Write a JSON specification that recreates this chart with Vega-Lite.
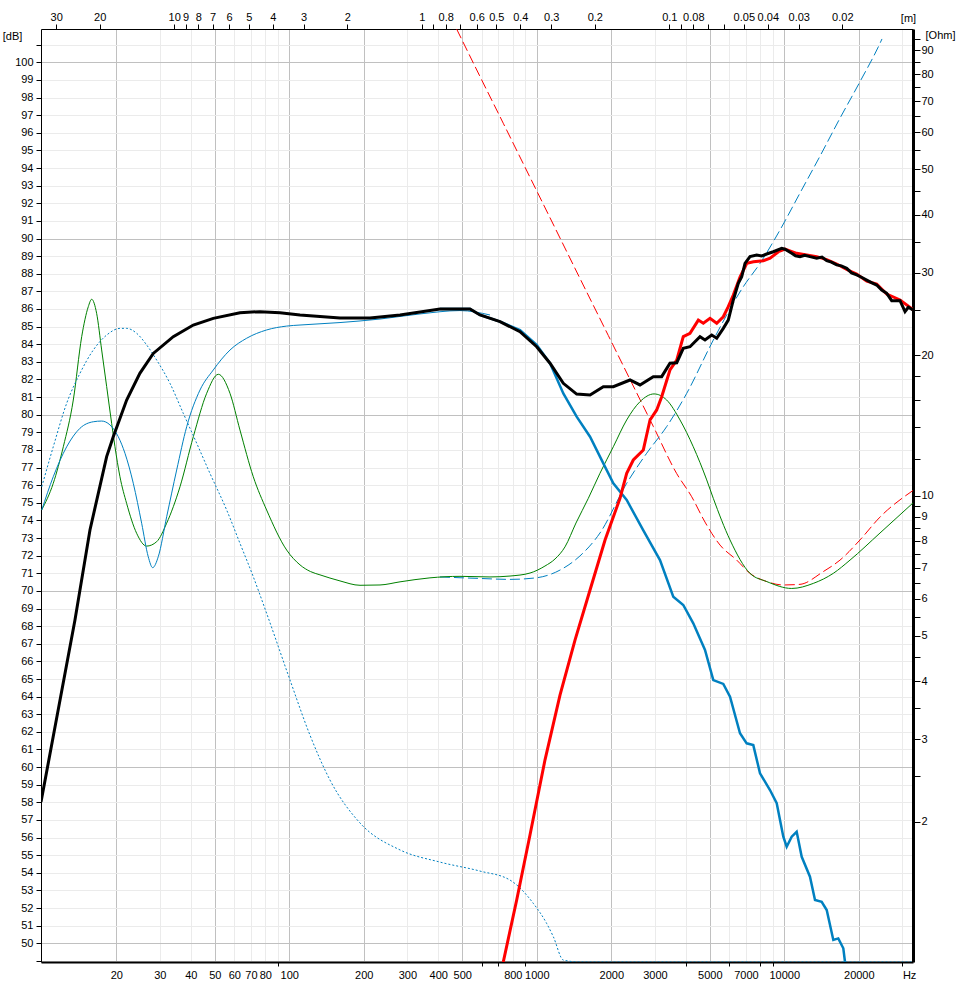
{
  "$schema": "https://vega.github.io/schema/vega-lite/v6.json",
  "width": 872,
  "height": 933,
  "autosize": {"type": "none"},
  "padding": {"left": 41, "top": 29, "right": 45, "bottom": 37},
  "background": "white",
  "config": {
    "view": {"stroke": null},
    "axis": {"labelFont": "Liberation Sans", "labelFontSize": 11, "labelColor": "black", "titleFont": "Liberation Sans", "titleFontSize": 11, "titleFontWeight": "normal", "titleColor": "black"}
  },
  "datasets": {
    "spl": [
      {"s": "total", "f": 9.93, "db": 58.02}, {"s": "total", "f": 13.62, "db": 68.35}, {"s": "total", "f": 15.66, "db": 73.46}, {"s": "total", "f": 18.29, "db": 77.62}, {"s": "total", "f": 19.45, "db": 78.75}, {"s": "total", "f": 22.03, "db": 80.83}, {"s": "total", "f": 24.91, "db": 82.35}, {"s": "total", "f": 28.22, "db": 83.48}, {"s": "total", "f": 33.99, "db": 84.43}, {"s": "total", "f": 40.95, "db": 85.09}, {"s": "total", "f": 49.32, "db": 85.47}, {"s": "total", "f": 63.22, "db": 85.79}, {"s": "total", "f": 76.13, "db": 85.85}, {"s": "total", "f": 91.7, "db": 85.79}, {"s": "total", "f": 110.5, "db": 85.66}, {"s": "total", "f": 160.3, "db": 85.49}, {"s": "total", "f": 211.9, "db": 85.49}, {"s": "total", "f": 280.2, "db": 85.66}, {"s": "total", "f": 406.3, "db": 86.0}, {"s": "total", "f": 537.2, "db": 86.0}, {"s": "total", "f": 589.6, "db": 85.66}, {"s": "total", "f": 710.2, "db": 85.28}, {"s": "total", "f": 855.3, "db": 84.71}, {"s": "total", "f": 999, "db": 83.86}, {"s": "total", "f": 1131, "db": 82.92}, {"s": "total", "f": 1280, "db": 81.78}, {"s": "total", "f": 1449, "db": 81.17}, {"s": "total", "f": 1641, "db": 81.12}, {"s": "total", "f": 1857, "db": 81.59}, {"s": "total", "f": 2038, "db": 81.59}, {"s": "total", "f": 2380, "db": 81.97}, {"s": "total", "f": 2612, "db": 81.69}, {"s": "total", "f": 2955, "db": 82.16}, {"s": "total", "f": 3196, "db": 82.16}, {"s": "total", "f": 3452, "db": 82.92}, {"s": "total", "f": 3676, "db": 82.95}, {"s": "total", "f": 3907, "db": 83.77}, {"s": "total", "f": 4159, "db": 83.86}, {"s": "total", "f": 4564, "db": 84.43}, {"s": "total", "f": 4782, "db": 84.24}, {"s": "total", "f": 5090, "db": 84.52}, {"s": "total", "f": 5333, "db": 84.34}, {"s": "total", "f": 5669, "db": 84.9}, {"s": "total", "f": 5938, "db": 85.37}, {"s": "total", "f": 6223, "db": 86.51}, {"s": "total", "f": 6518, "db": 87.46}, {"s": "total", "f": 6729, "db": 87.83}, {"s": "total", "f": 6938, "db": 88.59}, {"s": "total", "f": 7267, "db": 88.97}, {"s": "total", "f": 7735, "db": 89.06}, {"s": "total", "f": 8104, "db": 89.01}, {"s": "total", "f": 8488, "db": 89.12}, {"s": "total", "f": 9028, "db": 89.25}, {"s": "total", "f": 9761, "db": 89.44}, {"s": "total", "f": 10065, "db": 89.39}, {"s": "total", "f": 10713, "db": 89.16}, {"s": "total", "f": 11100, "db": 89.02}, {"s": "total", "f": 11570, "db": 88.97}, {"s": "total", "f": 12100, "db": 89.05}, {"s": "total", "f": 12697, "db": 88.97}, {"s": "total", "f": 13518, "db": 88.88}, {"s": "total", "f": 14200, "db": 88.95}, {"s": "total", "f": 14837, "db": 88.74}, {"s": "total", "f": 15500, "db": 88.66}, {"s": "total", "f": 16280, "db": 88.5}, {"s": "total", "f": 17000, "db": 88.45}, {"s": "total", "f": 17870, "db": 88.31}, {"s": "total", "f": 18700, "db": 88.05}, {"s": "total", "f": 19610, "db": 87.93}, {"s": "total", "f": 20500, "db": 87.8}, {"s": "total", "f": 21530, "db": 87.64}, {"s": "total", "f": 22500, "db": 87.5}, {"s": "total", "f": 23620, "db": 87.36}, {"s": "total", "f": 24750, "db": 87.08}, {"s": "total", "f": 25930, "db": 86.89}, {"s": "total", "f": 27160, "db": 86.47}, {"s": "total", "f": 29350, "db": 86.47}, {"s": "total", "f": 30740, "db": 85.85}, {"s": "total", "f": 31700, "db": 86.1}, {"s": "total", "f": 33110, "db": 85.94},

      {"s": "tw", "f": 732.1, "db": 48.94}, {"s": "tw", "f": 829.5, "db": 52.46}, {"s": "tw", "f": 938.7, "db": 56.15}, {"s": "tw", "f": 1079, "db": 60.4}, {"s": "tw", "f": 1241, "db": 64.09}, {"s": "tw", "f": 1427, "db": 67.21}, {"s": "tw", "f": 1641, "db": 70.05}, {"s": "tw", "f": 1887, "db": 72.89}, {"s": "tw", "f": 2169, "db": 75.26}, {"s": "tw", "f": 2308, "db": 76.67}, {"s": "tw", "f": 2454, "db": 77.43}, {"s": "tw", "f": 2694, "db": 78.0}, {"s": "tw", "f": 2867, "db": 79.7}, {"s": "tw", "f": 3051, "db": 80.27}, {"s": "tw", "f": 3196, "db": 81.02}, {"s": "tw", "f": 3452, "db": 82.54}, {"s": "tw", "f": 3676, "db": 83.1}, {"s": "tw", "f": 3907, "db": 84.43}, {"s": "tw", "f": 4159, "db": 84.62}, {"s": "tw", "f": 4494, "db": 85.37}, {"s": "tw", "f": 4707, "db": 85.19}, {"s": "tw", "f": 5010, "db": 85.47}, {"s": "tw", "f": 5333, "db": 85.19}, {"s": "tw", "f": 5669, "db": 85.56}, {"s": "tw", "f": 5938, "db": 86.13}, {"s": "tw", "f": 6223, "db": 86.79}, {"s": "tw", "f": 6628, "db": 87.83}, {"s": "tw", "f": 7055, "db": 88.59}, {"s": "tw", "f": 7504, "db": 88.68}, {"s": "tw", "f": 8232, "db": 88.74}, {"s": "tw", "f": 8763, "db": 88.88}, {"s": "tw", "f": 9467, "db": 89.25}, {"s": "tw", "f": 10065, "db": 89.4}, {"s": "tw", "f": 11220, "db": 89.16}, {"s": "tw", "f": 12315, "db": 89.06}, {"s": "tw", "f": 13518, "db": 88.97}, {"s": "tw", "f": 14837, "db": 88.8}, {"s": "tw", "f": 16280, "db": 88.55}, {"s": "tw", "f": 17870, "db": 88.24}, {"s": "tw", "f": 19610, "db": 87.98}, {"s": "tw", "f": 21530, "db": 87.58}, {"s": "tw", "f": 23620, "db": 87.41}, {"s": "tw", "f": 25930, "db": 86.85}, {"s": "tw", "f": 29350, "db": 86.51}, {"s": "tw", "f": 33110, "db": 85.97},

      {"s": "wf", "f": 406.3, "db": 86.0}, {"s": "wf", "f": 537.2, "db": 86.0}, {"s": "wf", "f": 589.6, "db": 85.66}, {"s": "wf", "f": 710.2, "db": 85.28}, {"s": "wf", "f": 855.3, "db": 84.81}, {"s": "wf", "f": 999, "db": 83.96}, {"s": "wf", "f": 1131, "db": 82.92}, {"s": "wf", "f": 1280, "db": 81.21}, {"s": "wf", "f": 1449, "db": 79.89}, {"s": "wf", "f": 1641, "db": 78.75}, {"s": "wf", "f": 1857, "db": 77.24}, {"s": "wf", "f": 2038, "db": 76.11}, {"s": "wf", "f": 2308, "db": 75.16}, {"s": "wf", "f": 2687, "db": 73.46}, {"s": "wf", "f": 3146, "db": 71.75}, {"s": "wf", "f": 3560, "db": 69.67}, {"s": "wf", "f": 3907, "db": 69.2}, {"s": "wf", "f": 4288, "db": 68.16}, {"s": "wf", "f": 4782, "db": 66.65}, {"s": "wf", "f": 5166, "db": 64.94}, {"s": "wf", "f": 5669, "db": 64.72}, {"s": "wf", "f": 6035, "db": 64.0}, {"s": "wf", "f": 6622, "db": 61.92}, {"s": "wf", "f": 7047, "db": 61.35}, {"s": "wf", "f": 7494, "db": 61.25}, {"s": "wf", "f": 7977, "db": 59.65}, {"s": "wf", "f": 8753, "db": 58.7}, {"s": "wf", "f": 9318, "db": 57.95}, {"s": "wf", "f": 9908, "db": 56.05}, {"s": "wf", "f": 10225, "db": 55.48}, {"s": "wf", "f": 10713, "db": 56.05}, {"s": "wf", "f": 11220, "db": 56.33}, {"s": "wf", "f": 11758, "db": 54.91}, {"s": "wf", "f": 12697, "db": 53.78}, {"s": "wf", "f": 13305, "db": 52.46}, {"s": "wf", "f": 14160, "db": 52.36}, {"s": "wf", "f": 14837, "db": 51.89}, {"s": "wf", "f": 15776, "db": 50.19}, {"s": "wf", "f": 16524, "db": 50.28}, {"s": "wf", "f": 17314, "db": 49.72}, {"s": "wf", "f": 17590, "db": 48.94},

      {"s": "cone", "f": 10.0, "db": 74.59}, {"s": "cone", "f": 11.13, "db": 76.48}, {"s": "cone", "f": 12.61, "db": 78.18}, {"s": "cone", "f": 14.27, "db": 79.23}, {"s": "cone", "f": 16.15, "db": 79.6}, {"s": "cone", "f": 17.46, "db": 79.64}, {"s": "cone", "f": 18.86, "db": 79.42}, {"s": "cone", "f": 20.38, "db": 78.75}, {"s": "cone", "f": 21.69, "db": 77.81}, {"s": "cone", "f": 23.43, "db": 76.11}, {"s": "cone", "f": 25.33, "db": 73.84}, {"s": "cone", "f": 26.93, "db": 71.94}, {"s": "cone", "f": 28.06, "db": 71.32}, {"s": "cone", "f": 29.56, "db": 71.94}, {"s": "cone", "f": 31.97, "db": 74.21}, {"s": "cone", "f": 35.08, "db": 76.86}, {"s": "cone", "f": 38.51, "db": 79.32}, {"s": "cone", "f": 43.58, "db": 81.4}, {"s": "cone", "f": 49.32, "db": 82.54}, {"s": "cone", "f": 57.6, "db": 83.67}, {"s": "cone", "f": 67.29, "db": 84.34}, {"s": "cone", "f": 81.0, "db": 84.81}, {"s": "cone", "f": 97.6, "db": 85.03}, {"s": "cone", "f": 110.5, "db": 85.09}, {"s": "cone", "f": 160.3, "db": 85.23}, {"s": "cone", "f": 232.6, "db": 85.43}, {"s": "cone", "f": 337.4, "db": 85.72}, {"s": "cone", "f": 489.4, "db": 85.91}, {"s": "cone", "f": 647.1, "db": 85.66},

      {"s": "port", "f": 10.0, "db": 75.91}, {"s": "port", "f": 11.13, "db": 78.18}, {"s": "port", "f": 12.61, "db": 80.65}, {"s": "port", "f": 14.27, "db": 82.35}, {"s": "port", "f": 16.15, "db": 83.67}, {"s": "port", "f": 18.29, "db": 84.52}, {"s": "port", "f": 20.72, "db": 84.9}, {"s": "port", "f": 22.03, "db": 84.9}, {"s": "port", "f": 24.18, "db": 84.62}, {"s": "port", "f": 26.53, "db": 83.96}, {"s": "port", "f": 29.13, "db": 83.1}, {"s": "port", "f": 32.96, "db": 81.78}, {"s": "port", "f": 37.3, "db": 80.08}, {"s": "port", "f": 42.27, "db": 78.38}, {"s": "port", "f": 47.82, "db": 76.67}, {"s": "port", "f": 55.86, "db": 74.59}, {"s": "port", "f": 63.22, "db": 72.7}, {"s": "port", "f": 71.52, "db": 70.81}, {"s": "port", "f": 81.0, "db": 68.73}, {"s": "port", "f": 100.7, "db": 64.94}, {"s": "port", "f": 121.2, "db": 61.82}, {"s": "port", "f": 146.0, "db": 59.27}, {"s": "port", "f": 193.1, "db": 56.83}, {"s": "port", "f": 280.2, "db": 55.3}, {"s": "port", "f": 406.3, "db": 54.61}, {"s": "port", "f": 589.6, "db": 54.1}, {"s": "port", "f": 779.4, "db": 53.59}, {"s": "port", "f": 967.9, "db": 52.27}, {"s": "port", "f": 1096, "db": 51.13}, {"s": "port", "f": 1166, "db": 50.38}, {"s": "port", "f": 1280, "db": 49.05}, {"s": "port", "f": 1494, "db": 47.3}, {"s": "port", "f": 33110, "db": 20}
    ],
    "imp": [
      {"s": "z", "f": 9.99, "ohm": 9.31}, {"s": "z", "f": 11.13, "ohm": 10.62}, {"s": "z", "f": 12.22, "ohm": 12.72}, {"s": "z", "f": 13.41, "ohm": 16.02}, {"s": "z", "f": 14.5, "ohm": 21.9}, {"s": "z", "f": 15.42, "ohm": 25.4}, {"s": "z", "f": 15.91, "ohm": 26.34}, {"s": "z", "f": 16.66, "ohm": 24.58}, {"s": "z", "f": 17.46, "ohm": 20.51}, {"s": "z", "f": 18.29, "ohm": 17.12}, {"s": "z", "f": 19.16, "ohm": 14.28}, {"s": "z", "f": 19.76, "ohm": 12.72}, {"s": "z", "f": 20.7, "ohm": 10.97}, {"s": "z", "f": 22.02, "ohm": 9.62}, {"s": "z", "f": 24.17, "ohm": 8.3}, {"s": "z", "f": 26.53, "ohm": 7.79}, {"s": "z", "f": 29.12, "ohm": 7.96}, {"s": "z", "f": 31.96, "ohm": 8.72}, {"s": "z", "f": 36.18, "ohm": 10.44}, {"s": "z", "f": 40.96, "ohm": 13.37}, {"s": "z", "f": 46.38, "ohm": 16.56}, {"s": "z", "f": 51.69, "ohm": 18.19}, {"s": "z", "f": 57.6, "ohm": 16.56}, {"s": "z", "f": 63.2, "ohm": 13.82}, {"s": "z", "f": 71.55, "ohm": 10.97}, {"s": "z", "f": 81.0, "ohm": 9.31}, {"s": "z", "f": 97.6, "ohm": 7.64}, {"s": "z", "f": 110.5, "ohm": 7.1}, {"s": "z", "f": 121.8, "ohm": 6.87}, {"s": "z", "f": 133.0, "ohm": 6.76}, {"s": "z", "f": 160.3, "ohm": 6.56}, {"s": "z", "f": 193.1, "ohm": 6.42}, {"s": "z", "f": 232.6, "ohm": 6.43}, {"s": "z", "f": 280.2, "ohm": 6.53}, {"s": "z", "f": 370.2, "ohm": 6.66}, {"s": "z", "f": 489.4, "ohm": 6.71}, {"s": "z", "f": 647.1, "ohm": 6.69}, {"s": "z", "f": 779.4, "ohm": 6.72}, {"s": "z", "f": 938.7, "ohm": 6.82}, {"s": "z", "f": 1079, "ohm": 7.06}, {"s": "z", "f": 1185, "ohm": 7.31}, {"s": "z", "f": 1300, "ohm": 7.76}, {"s": "z", "f": 1440, "ohm": 8.73}, {"s": "z", "f": 1615, "ohm": 9.86}, {"s": "z", "f": 1800, "ohm": 11.16}, {"s": "z", "f": 2038, "ohm": 12.72}, {"s": "z", "f": 2308, "ohm": 14.52}, {"s": "z", "f": 2612, "ohm": 15.89}, {"s": "z", "f": 2976, "ohm": 16.51}, {"s": "z", "f": 3348, "ohm": 16.02}, {"s": "z", "f": 3790, "ohm": 14.52}, {"s": "z", "f": 4288, "ohm": 12.72}, {"s": "z", "f": 4859, "ohm": 10.8}, {"s": "z", "f": 5166, "ohm": 9.86}, {"s": "z", "f": 6035, "ohm": 8.03}, {"s": "z", "f": 7267, "ohm": 6.81}, {"s": "z", "f": 8488, "ohm": 6.54}, {"s": "z", "f": 10713, "ohm": 6.32}, {"s": "z", "f": 13098, "ohm": 6.48}, {"s": "z", "f": 15776, "ohm": 6.81}, {"s": "z", "f": 18430, "ohm": 7.27}, {"s": "z", "f": 24360, "ohm": 8.31}, {"s": "z", "f": 33110, "ohm": 9.64},

      {"s": "zw", "f": 406.3, "ohm": 6.69}, {"s": "zw", "f": 589.6, "ohm": 6.64}, {"s": "zw", "f": 779.4, "ohm": 6.61}, {"s": "zw", "f": 992.6, "ohm": 6.66}, {"s": "zw", "f": 1241, "ohm": 6.92}, {"s": "zw", "f": 1494, "ohm": 7.42}, {"s": "zw", "f": 1800, "ohm": 8.31}, {"s": "zw", "f": 2308, "ohm": 10.62}, {"s": "zw", "f": 2780, "ohm": 12.32}, {"s": "zw", "f": 3348, "ohm": 14.05}, {"s": "zw", "f": 4035, "ohm": 16.56}, {"s": "zw", "f": 5166, "ohm": 21.54}, {"s": "zw", "f": 6829, "ohm": 28.03}, {"s": "zw", "f": 7977, "ohm": 31.45}, {"s": "zw", "f": 9607, "ohm": 37.08}, {"s": "zw", "f": 11570, "ohm": 44.5}, {"s": "zw", "f": 13940, "ohm": 53.4}, {"s": "zw", "f": 16790, "ohm": 64.4}, {"s": "zw", "f": 20220, "ohm": 77.1}, {"s": "zw", "f": 24360, "ohm": 93.2}, {"s": "zw", "f": 24810, "ohm": 95.2},

      {"s": "zt", "f": 474.8, "ohm": 99.9}, {"s": "zt", "f": 589.6, "ohm": 79.1}, {"s": "zt", "f": 732.1, "ohm": 62.8}, {"s": "zt", "f": 938.7, "ohm": 48.1}, {"s": "zt", "f": 1185, "ohm": 37.46}, {"s": "zt", "f": 1494, "ohm": 29.2}, {"s": "zt", "f": 1945, "ohm": 22.03}, {"s": "zt", "f": 2380, "ohm": 17.74}, {"s": "zt", "f": 2955, "ohm": 14.07}, {"s": "zt", "f": 3676, "ohm": 11.14}, {"s": "zt", "f": 4225, "ohm": 9.94}, {"s": "zt", "f": 4782, "ohm": 8.77}, {"s": "zt", "f": 5499, "ohm": 7.83}, {"s": "zt", "f": 6423, "ohm": 7.27}, {"s": "zt", "f": 7267, "ohm": 6.81}, {"s": "zt", "f": 8488, "ohm": 6.54}, {"s": "zt", "f": 9908, "ohm": 6.43}, {"s": "zt", "f": 11570, "ohm": 6.45}, {"s": "zt", "f": 14380, "ohm": 6.87}, {"s": "zt", "f": 16790, "ohm": 7.27}, {"s": "zt", "f": 20220, "ohm": 8.03}, {"s": "zt", "f": 24360, "ohm": 8.99}, {"s": "zt", "f": 33110, "ohm": 10.25}
    ]
  },
  "layer": [
    {
      "encoding": {
        "x": {
          "field": "f", "type": "quantitative",
          "scale": {"type": "log", "domain": [9.93, 33110], "nice": false},
          "axis": {
            "orient": "bottom", "title": null,
            "values": [20, 30, 40, 50, 60, 70, 80, 90, 100, 200, 300, 400, 500, 600, 700, 800, 900, 1000, 2000, 3000, 4000, 5000, 6000, 7000, 8000, 9000, 10000, 20000, 30000],
            "grid": true,
            "gridColor": {"condition": {"test": "indexof([20,50,100,200,500,1000,2000,5000,10000,20000], datum.value) >= 0", "value": "#c0c0c0"}, "value": "#ebebeb"},
            "domainColor": "black", "domainWidth": 2,
            "tickColor": {"condition": {"test": "indexof([90,600,700,900,4000,6000,8000,9000,30000], datum.value) >= 0", "value": "black"}, "value": "transparent"},
            "tickSize": 4,
            "labelExpr": "indexof([90,600,700,900,4000,6000,8000,9000], datum.value) >= 0 ? '' : (datum.value == 30000 ? 'Hz' : format(datum.value, 'd'))",
            "labelAlign": {"condition": {"test": "datum.value == 30000", "value": "left"}, "value": "center"},
            "labelPadding": 3, "labelOverlap": false, "labelFlush": false
          }
        }
      },
      "layer": [
        {
          "data": {"name": "imp"},
          "encoding": {
            "y": {
              "field": "ohm", "type": "quantitative",
              "scale": {"type": "log", "domain": [1, 100], "nice": false},
              "axis": {
                "orient": "right",
                "values": [2, 2.5, 3, 3.5, 4, 4.5, 5, 5.5, 6, 6.5, 7, 7.5, 8, 8.5, 9, 9.5, 10, 12, 14, 16, 18, 20, 25, 30, 35, 40, 45, 50, 55, 60, 65, 70, 75, 80, 85, 90, 95],
                "labelExpr": "indexof([2,3,4,5,6,7,8,9,10,20,30,40,50,60,70,80,90], datum.value) >= 0 ? format(datum.value, 'd') : ''",
                "title": "[Ohm]", "titleAngle": 0, "titleX": 27, "titleY": 6, "titleAlign": "center", "titleBaseline": "middle",
                "grid": false, "domainColor": "black", "domainWidth": 3, "tickColor": "black", "tickSize": 7, "labelPadding": 1, "labelOverlap": false, "labelFlush": false
              }
            }
          },
          "layer": [
            {"transform": [{"filter": "datum.s == 'zt'"}], "mark": {"type": "line", "color": "#ff0000", "strokeWidth": 1, "strokeDash": [10, 4], "interpolate": "monotone", "clip": true}},
            {"transform": [{"filter": "datum.s == 'zw'"}], "mark": {"type": "line", "color": "#0080c0", "strokeWidth": 1, "strokeDash": [10, 4], "interpolate": "monotone", "clip": true}},
            {"transform": [{"filter": "datum.s == 'z'"}], "mark": {"type": "line", "color": "#008000", "strokeWidth": 1, "interpolate": "monotone", "clip": true}}
          ]
        },
        {
          "data": {"name": "spl"},
          "encoding": {
            "y": {
              "field": "db", "type": "quantitative",
              "scale": {"domain": [48.94, 101.89], "nice": false, "zero": false, "clamp": true},
              "axis": {
                "orient": "left",
                "values": [49, 50, 51, 52, 53, 54, 55, 56, 57, 58, 59, 60, 61, 62, 63, 64, 65, 66, 67, 68, 69, 70, 71, 72, 73, 74, 75, 76, 77, 78, 79, 80, 81, 82, 83, 84, 85, 86, 87, 88, 89, 90, 91, 92, 93, 94, 95, 96, 97, 98, 99, 100, 101],
                "labelExpr": "datum.value >= 50 && datum.value <= 100 ? '' + datum.value : ''",
                "title": "[dB]", "titleAngle": 0, "titleX": -29, "titleY": 7, "titleAlign": "center", "titleBaseline": "middle",
                "grid": true,
                "gridColor": {"condition": {"test": "datum.value % 10 == 0", "value": "#c0c0c0"}, "value": "#ebebeb"},
                "domainColor": "black", "domainWidth": 1, "tickColor": "black", "tickSize": 5, "labelPadding": 3, "labelOverlap": false, "labelFlush": false
              }
            }
          },
          "layer": [
            {"transform": [{"filter": "datum.s == 'port'"}], "mark": {"type": "line", "color": "#0080c0", "strokeWidth": 1, "strokeDash": [2, 2], "interpolate": "monotone", "clip": true}},
            {"transform": [{"filter": "datum.s == 'cone'"}], "mark": {"type": "line", "color": "#0080c0", "strokeWidth": 1, "interpolate": "monotone", "clip": true}},
            {"transform": [{"filter": "datum.s == 'wf'"}], "mark": {"type": "line", "color": "#0080c0", "strokeWidth": 2.5, "clip": true}},
            {"transform": [{"filter": "datum.s == 'tw'"}], "mark": {"type": "line", "color": "#ff0000", "strokeWidth": 3, "clip": true}},
            {"transform": [{"filter": "datum.s == 'total'"}], "mark": {"type": "line", "color": "#000000", "strokeWidth": 3, "clip": true}},
            {
              "data": {"values": [{"t": "Basta!"}]},
              "mark": {"type": "text", "font": "DejaVu Sans", "fontSize": 12, "fontWeight": "bold", "color": "#c0c0c0", "align": "center", "baseline": "middle"},
              "encoding": {
                "x": {"datum": 26080, "type": "quantitative", "scale": {"type": "log"}},
                "y": {"datum": 101.42, "type": "quantitative"},
                "text": {"field": "t"}
              }
            }
          ]
        }
      ],
      "resolve": {"scale": {"y": "independent"}, "axis": {"y": "independent"}}
    },
    {
      "data": {"values": [{"m": 0.010363}, {"m": 34.54}]},
      "mark": {"type": "point", "opacity": 0},
      "encoding": {
        "x": {
          "field": "m", "type": "quantitative",
          "scale": {"type": "log", "domain": [0.010363, 34.54], "reverse": true, "nice": false},
          "axis": {
            "orient": "top",
            "values": [30, 20, 10, 9, 8, 7, 6, 5, 4, 3, 2, 1, 0.9, 0.8, 0.7, 0.6, 0.5, 0.4, 0.3, 0.2, 0.1, 0.09, 0.08, 0.07, 0.06, 0.05, 0.04, 0.03, 0.02],
            "labelExpr": "indexof([0.9,0.7,0.09,0.07,0.06], datum.value) >= 0 ? '' : format(datum.value, '~g')",
            "title": "[m]", "titleAngle": 0, "titleX": 867, "titleY": -11, "titleAlign": "center", "titleBaseline": "middle",
            "grid": false, "domainColor": "black", "domainWidth": 1, "tickColor": "black", "tickSize": 5, "labelPadding": 2, "labelOverlap": false, "labelFlush": false
          }
        }
      }
    }
  ],
  "resolve": {"scale": {"x": "independent", "y": "independent"}}
}
